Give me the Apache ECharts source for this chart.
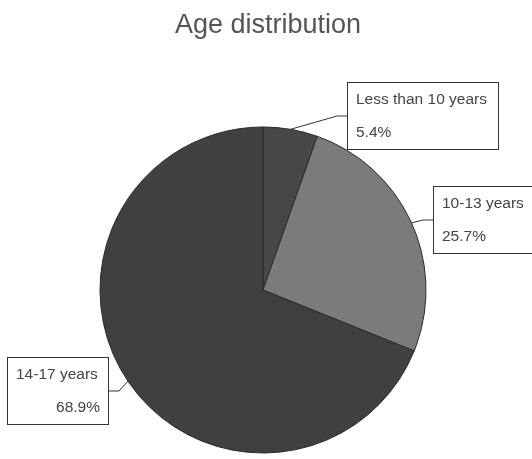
<!DOCTYPE html>
<html>
<head>
<meta charset="utf-8">
<script src="https://cdn.jsdelivr.net/npm/echarts@6/dist/echarts.min.js"></script>
<style>
  html, body { margin: 0; padding: 0; background: #ffffff; }
  #chart { width: 532px; height: 459px; }
</style>
</head>
<body>
<div id="chart"></div>
<script>
// Age groups and their share of respondents (percent)
const categories = ['Less than 10 years', '10-13 years', '14-17 years'];
const shares = [5.4, 25.7, 68.9];

const sliceColors = ['#474747', '#7b7b7b', '#404040'];

// Callout boxes: top-left corner, inner text width, alignment of the value line
const calloutBoxes = [
  { x: 348, y: 83, width: 134, valueAlign: 'left' },
  { x: 434, y: 187, width: 84, valueAlign: 'left' },
  { x: 8, y: 358, width: 84, valueAlign: 'right' }
];

const chart = echarts.init(document.getElementById('chart'), null, { renderer: 'canvas' });

const textFont = '"Liberation Sans", Arial, sans-serif';
const labelSize = 15.5;
const labelLine = 33;

chart.setOption({
  backgroundColor: '#ffffff',
  animation: false,
  title: {
    text: 'Age distribution',
    left: 263,
    textAlign: 'center',
    top: 7,
    textStyle: {
      fontFamily: textFont,
      fontSize: 27,
      fontWeight: 'normal',
      color: '#555555'
    }
  },
  series: [{
    type: 'pie',
    center: [263, 290],
    radius: [0, 163],
    startAngle: 90,
    clockwise: true,
    avoidLabelOverlap: false,
    data: categories.map((name, i) => ({
      name: name,
      value: shares[i],
      itemStyle: { color: sliceColors[i] },
      label: {
        width: calloutBoxes[i].width,
        formatter: '{name|{b}}\n{' + (calloutBoxes[i].valueAlign === 'right' ? 'valR' : 'valL') + '|{c}%}'
      }
    })),
    itemStyle: {
      borderColor: '#2a2a2a',
      borderWidth: 1
    },
    label: {
      show: true,
      position: 'outside',
      overflow: 'none',
      fontFamily: textFont,
      fontSize: labelSize,
      color: '#444444',
      lineHeight: labelLine,
      backgroundColor: '#ffffff',
      borderColor: '#333333',
      borderWidth: 1,
      padding: [0, 8, 0, 8],
      align: 'left',
      rich: {
        name: { fontFamily: textFont, fontSize: labelSize, color: '#444444', lineHeight: labelLine },
        valL: { fontFamily: textFont, fontSize: labelSize, color: '#444444', lineHeight: labelLine, align: 'left' },
        valR: { fontFamily: textFont, fontSize: labelSize, color: '#444444', lineHeight: labelLine, align: 'right' }
      }
    },
    labelLine: {
      show: true,
      length: 8,
      length2: 10,
      lineStyle: { color: '#333333', width: 1 }
    },
    labelLayout: function (params) {
      const box = calloutBoxes[params.dataIndex];
      return {
        x: box.x,
        y: box.y,
        align: 'left',
        verticalAlign: 'top'
      };
    },
    emphasis: { disabled: true }
  }]
});
</script>
</body>
</html>
